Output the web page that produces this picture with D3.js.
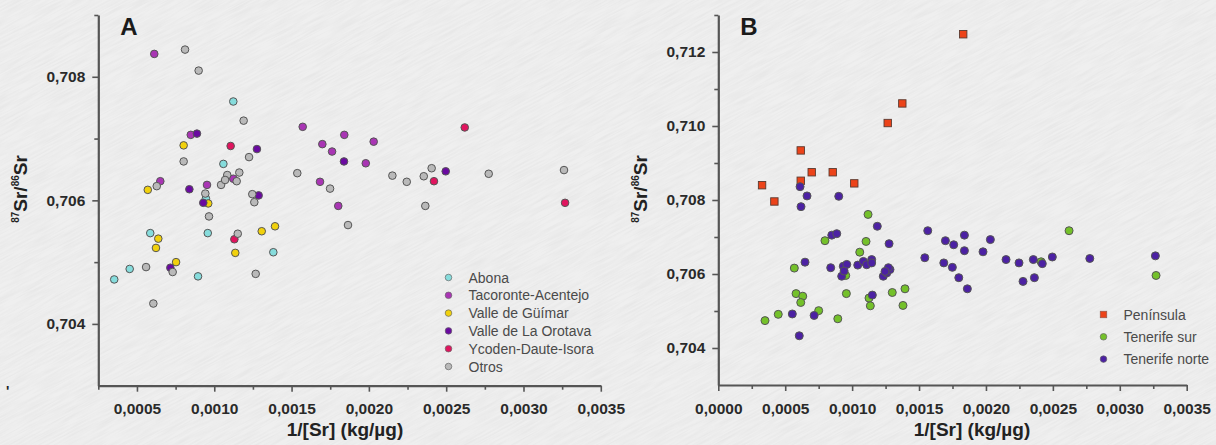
<!DOCTYPE html>
<html>
<head>
<meta charset="utf-8">
<script src="https://cdn.jsdelivr.net/npm/d3@7"></script>
<style>
  html, body { margin: 0; padding: 0; background: #efefef; }
  svg { display: block; }
  text { font-family: "Liberation Sans", Arial, sans-serif; }
</style>
</head>
<body>
<svg id="chart" width="1216" height="445"></svg>
<script>
// ---- Panel A: 87Sr/86Sr vs 1/[Sr] by municipality group ----
const abona = [
  [0.001123, 0.70760], [0.001059, 0.70659], [0.000946, 0.70603], [0.000586, 0.70547],
  [0.000958, 0.70547], [0.001382, 0.70516], [0.000453, 0.70489], [0.000353, 0.70472],
  [0.000895, 0.70477]
];
const tacoronte = [
  [0.000612, 0.70837], [0.000848, 0.70706], [0.001572, 0.70719], [0.001123, 0.70635],
  [0.000651, 0.70631], [0.000953, 0.70625], [0.001841, 0.70706], [0.001699, 0.70691],
  [0.001762, 0.70679], [0.002031, 0.70695], [0.001980, 0.70660], [0.001684, 0.70630],
  [0.001802, 0.70591]
];
const guimar = [
  [0.000802, 0.70689], [0.000570, 0.70617], [0.000961, 0.70595], [0.000638, 0.70538],
  [0.000623, 0.70523], [0.001307, 0.70550], [0.001393, 0.70558], [0.001136, 0.70515],
  [0.000753, 0.70500]
];
const orotava = [
  [0.000888, 0.70708], [0.001276, 0.70683], [0.000839, 0.70618], [0.000929, 0.70596],
  [0.001287, 0.70608], [0.000716, 0.70491], [0.001839, 0.70663], [0.002497, 0.70647]
];
const ycoden = [
  [0.001106, 0.70688], [0.001130, 0.70537], [0.002620, 0.70718], [0.002421, 0.70631],
  [0.003269, 0.70596]
];
const otros = [
  [0.000811, 0.70844], [0.000899, 0.70810], [0.001190, 0.70729], [0.000802, 0.70663],
  [0.001225, 0.70670], [0.001537, 0.70644], [0.001084, 0.70641], [0.001162, 0.70645],
  [0.001145, 0.70631], [0.001044, 0.70625], [0.001070, 0.70633], [0.000628, 0.70623],
  [0.000942, 0.70611], [0.001246, 0.70610], [0.001259, 0.70597], [0.000966, 0.70574],
  [0.001152, 0.70546], [0.000731, 0.70484], [0.000559, 0.70492], [0.001268, 0.70481],
  [0.000606, 0.70433], [0.001749, 0.70619], [0.001865, 0.70560], [0.002152, 0.70640],
  [0.002245, 0.70630], [0.002355, 0.70639], [0.002406, 0.70652], [0.002775, 0.70643],
  [0.003262, 0.70649], [0.002365, 0.70591]
];

// ---- Panel B: Peninsula vs south / north Tenerife ----
const peninsula = [
  [0.001830, 0.71248], [0.001375, 0.71061], [0.001266, 0.71008], [0.000616, 0.70934],
  [0.000698, 0.70875], [0.000855, 0.70875], [0.000616, 0.70852], [0.000327, 0.70840],
  [0.001016, 0.70845], [0.000419, 0.70796]
];
const tenerifeSur = [
  [0.001119, 0.70761], [0.000797, 0.70690], [0.001104, 0.70688], [0.001057, 0.70659],
  [0.000568, 0.70616], [0.000952, 0.70596], [0.000581, 0.70547], [0.000631, 0.70540],
  [0.000616, 0.70523], [0.000957, 0.70547], [0.001126, 0.70535], [0.001136, 0.70514],
  [0.001300, 0.70550], [0.001395, 0.70560], [0.001380, 0.70515], [0.000750, 0.70501],
  [0.000448, 0.70491], [0.000349, 0.70474], [0.000893, 0.70479], [0.002621, 0.70717],
  [0.003271, 0.70596], [0.002412, 0.70633]
];
const tenerifeNorte = [
  [0.000611, 0.70836], [0.000663, 0.70811], [0.000618, 0.70782], [0.000900, 0.70810],
  [0.001188, 0.70729], [0.000848, 0.70705], [0.000885, 0.70709], [0.001276, 0.70682],
  [0.000648, 0.70632], [0.000840, 0.70617], [0.000934, 0.70621], [0.000960, 0.70626],
  [0.000922, 0.70594], [0.000940, 0.70608], [0.001042, 0.70624], [0.001084, 0.70634],
  [0.001146, 0.70639], [0.001109, 0.70625], [0.001146, 0.70630], [0.001233, 0.70594],
  [0.001259, 0.70603], [0.001283, 0.70612], [0.001271, 0.70617], [0.001246, 0.70607],
  [0.001151, 0.70543], [0.000553, 0.70492], [0.000716, 0.70488], [0.000605, 0.70433],
  [0.001565, 0.70717], [0.001697, 0.70690], [0.001759, 0.70679], [0.001839, 0.70705],
  [0.001839, 0.70663], [0.002033, 0.70693], [0.001978, 0.70660], [0.001543, 0.70644],
  [0.001685, 0.70630], [0.001749, 0.70618], [0.001797, 0.70590], [0.001861, 0.70560],
  [0.002150, 0.70639], [0.002247, 0.70630], [0.002354, 0.70639], [0.002421, 0.70628],
  [0.002496, 0.70646], [0.002277, 0.70580], [0.002362, 0.70590], [0.002776, 0.70642],
  [0.003266, 0.70649]
];

// ---- Axis ticks ----
const xMajorA = [0.0005, 0.0010, 0.0015, 0.0020, 0.0025, 0.0030, 0.0035];
const xMinorA = [0.00025, 0.00075, 0.00125, 0.00175, 0.00225, 0.00275, 0.00325];
const yMajorA = [0.704, 0.706, 0.708];
const yMinorA = [0.705, 0.707, 0.709];
const xMajorB = [0.0000, 0.0005, 0.0010, 0.0015, 0.0020, 0.0025, 0.0030, 0.0035];
const xMinorB = [0.00025, 0.00075, 0.00125, 0.00175, 0.00225, 0.00275, 0.00325];
const yMajorB = [0.704, 0.706, 0.708, 0.710, 0.712];
const yMinorB = [0.705, 0.707, 0.709, 0.711, 0.713];

// ---- Series definitions ----
const seriesA = [
  { name: "Abona", data: abona, fill: "#86dcdc" },
  { name: "Tacoronte-Acentejo", data: tacoronte, fill: "#a935b4" },
  { name: "Valle de Güímar", data: guimar, fill: "#f1d10c" },
  { name: "Valle de La Orotava", data: orotava, fill: "#6a0aa0" },
  { name: "Ycoden-Daute-Isora", data: ycoden, fill: "#e0145e" },
  { name: "Otros", data: otros, fill: "#b9b9b9" }
];
const seriesB = [
  { name: "Península", data: peninsula, fill: "#ec4319", shape: "square" },
  { name: "Tenerife sur", data: tenerifeSur, fill: "#74c12a" },
  { name: "Tenerife norte", data: tenerifeNorte, fill: "#4c21a3" }
];

const locale = d3.formatLocale({ decimal: ",", thousands: ".", grouping: [3], currency: ["", " €"] });
const fmtX = locale.format(".4f");
const fmtY = locale.format(".3f");

const svg = d3.select("#chart");

// paper-like background with faint diagonal grain
const defs = svg.append("defs");
const grain = defs.append("filter").attr("id", "grain")
  .attr("x", 0).attr("y", 0).attr("width", "100%").attr("height", "100%");
grain.append("feTurbulence").attr("type", "fractalNoise")
  .attr("baseFrequency", "0.035 0.6").attr("numOctaves", 2).attr("seed", 7).attr("result", "n");
grain.append("feColorMatrix").attr("in", "n").attr("type", "matrix")
  .attr("values", "0 0 0 0 0.45  0 0 0 0 0.45  0 0 0 0 0.45  0 0 0 -1.6 1.05");

svg.append("rect").attr("width", 1216).attr("height", 445).attr("fill", "#efefef");
svg.append("g").attr("opacity", 0.16)
  .append("rect").attr("x", -400).attr("y", -700).attr("width", 2100).attr("height", 1900)
  .attr("transform", "rotate(-28 608 222)")
  .attr("filter", "url(#grain)");

function drawPanel(opt) {
  const x = d3.scaleLinear().domain(opt.xDomain).range([opt.left, opt.right]);
  const y = d3.scaleLinear().domain(opt.yDomain).range([opt.bottom, opt.top]);
  const g = svg.append("g");

  // minor ticks
  g.append("g").attr("transform", `translate(0,${opt.bottom})`)
    .call(d3.axisBottom(x).tickValues(opt.xMinor).tickSize(4).tickSizeOuter(0).tickFormat(""))
    .call(s => s.select(".domain").remove());
  g.append("g").attr("transform", `translate(${opt.left},0)`)
    .call(d3.axisLeft(y).tickValues(opt.yMinor).tickSize(4).tickSizeOuter(0).tickFormat(""))
    .call(s => s.select(".domain").remove());

  // major ticks with labels
  const xa = g.append("g").attr("transform", `translate(0,${opt.bottom})`)
    .call(d3.axisBottom(x).tickValues(opt.xMajor).tickSize(6).tickSizeOuter(0).tickPadding(8).tickFormat(fmtX));
  g.append("g").attr("transform", `translate(${opt.left},0)`)
    .call(d3.axisLeft(y).tickValues(opt.yMajor).tickSize(6).tickSizeOuter(0).tickPadding(opt.yPad).tickFormat(fmtY));

  g.selectAll(".tick line").attr("stroke", "#555").attr("stroke-width", 1.6);
  g.selectAll(".domain").attr("stroke", "#555").attr("stroke-width", 2.2);
  g.selectAll(".tick text")
    .attr("fill", "#2a2a2a")
    .attr("font-size", 15.5)
    .attr("font-weight", "bold")
    .attr("font-family", "'Liberation Sans', Arial, sans-serif");
  xa.selectAll(".tick text").attr("dy", "0.95em");

  // data markers
  opt.series.forEach(s => {
    if (s.shape === "square") {
      const side = 7.4;
      g.append("g").selectAll("rect").data(s.data).join("rect")
        .attr("x", d => x(d[0]) - side / 2)
        .attr("y", d => y(d[1]) - side / 2)
        .attr("width", side).attr("height", side)
        .attr("fill", s.fill).attr("stroke", "#5a3a30").attr("stroke-width", 0.9);
    } else {
      g.append("g").selectAll("circle").data(s.data).join("circle")
        .attr("cx", d => x(d[0]))
        .attr("cy", d => y(d[1]))
        .attr("r", opt.r)
        .attr("fill", s.fill).attr("stroke", "#555").attr("stroke-width", 1);
    }
  });

  // panel letter
  g.append("text").attr("x", opt.left + 22).attr("y", 35)
    .attr("font-size", 24).attr("font-weight", "bold").attr("fill", "#1a1a1a")
    .text(opt.letter);

  // x title
  g.append("text").attr("x", opt.xTitleX).attr("y", 436)
    .attr("text-anchor", "middle").attr("font-size", 19).attr("font-weight", "bold").attr("fill", "#222")
    .text("1/[Sr] (kg/µg)");

  // y title with isotope superscripts
  const yt = g.append("text")
    .attr("transform", `translate(${opt.yTitleX},189) rotate(-90)`)
    .attr("text-anchor", "middle").attr("font-size", 19).attr("font-weight", "bold").attr("fill", "#222");
  yt.append("tspan").attr("font-size", 10).attr("dy", -8).text("87");
  yt.append("tspan").attr("dy", 8).text("Sr/");
  yt.append("tspan").attr("font-size", 10).attr("dy", -8).text("86");
  yt.append("tspan").attr("dy", 8).text("Sr");

  // legend
  const lg = g.append("g");
  opt.series.forEach((s, i) => {
    const cy = opt.legY + i * opt.legStep;
    if (s.shape === "square") {
      lg.append("rect").attr("x", opt.legX - 3.3).attr("y", cy - 3.3).attr("width", 6.6).attr("height", 6.6)
        .attr("fill", s.fill).attr("stroke", "#8a5a50").attr("stroke-width", 0.6);
    } else {
      lg.append("circle").attr("cx", opt.legX).attr("cy", cy).attr("r", 3.3)
        .attr("fill", s.fill).attr("stroke", "#666").attr("stroke-width", 0.7);
    }
    lg.append("text").attr("x", opt.legX + 20).attr("y", cy).attr("dy", "0.36em")
      .attr("font-size", 14).attr("fill", "#4a4a4a")
      .text(s.name);
  });
}

drawPanel({
  letter: "A", series: seriesA,
  xDomain: [0.00025, 0.0035], yDomain: [0.703, 0.709],
  left: 98.3, right: 600.8, top: 15, bottom: 385.7,
  xMajor: xMajorA, xMinor: xMinorA, yMajor: yMajorA, yMinor: yMinorA,
  yPad: 7, r: 3.8, xTitleX: 345, yTitleX: 27,
  legX: 448.5, legY: 277.5, legStep: 17.8
});

drawPanel({
  letter: "B", series: seriesB,
  xDomain: [0, 0.0035], yDomain: [0.703, 0.713],
  left: 718.3, right: 1186.7, top: 15, bottom: 385,
  xMajor: xMajorB, xMinor: xMinorB, yMajor: yMajorB, yMinor: yMinorB,
  yPad: 7, r: 4, xTitleX: 972, yTitleX: 647,
  legX: 1103.5, legY: 314.5, legStep: 22.3
});

// small stray mark at lower left
svg.append("text").attr("x", 6).attr("y", 396).attr("font-size", 14).attr("font-weight", "bold")
  .attr("fill", "#222").text("'");
</script>
</body>
</html>
